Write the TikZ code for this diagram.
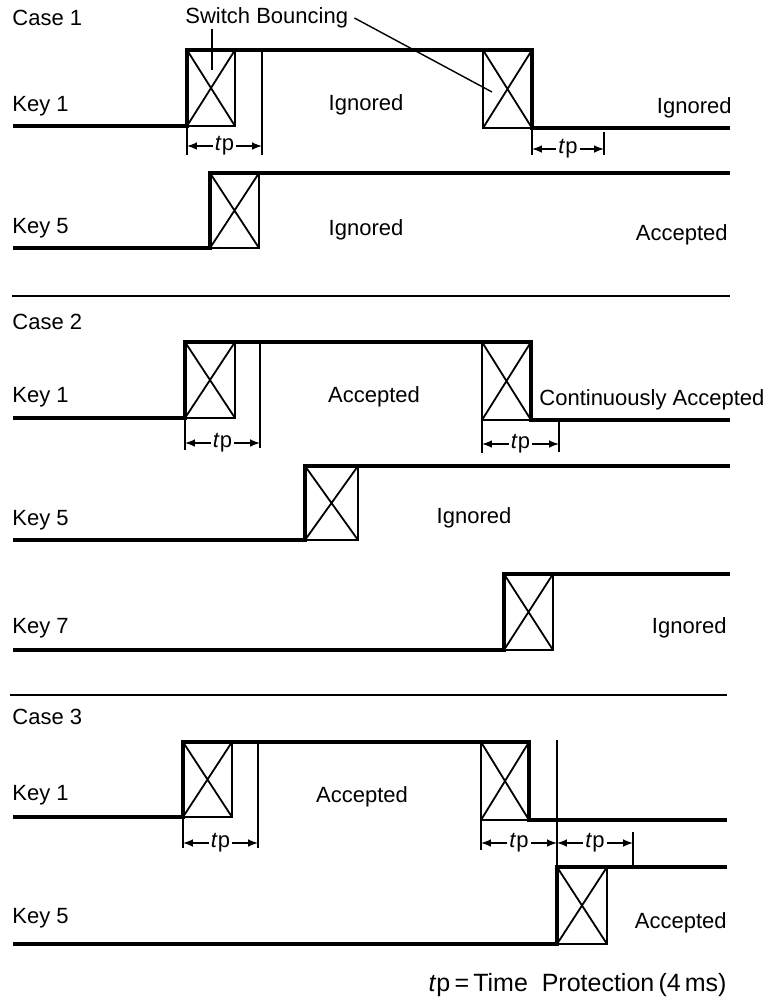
\documentclass[tikz,border=0pt]{standalone}
\usepackage{fontspec}
\setmainfont{Liberation Sans}
\usetikzlibrary{positioning}

\tikzset{
  sig/.style={line width=2pt, line join=miter},
  bnc/.style={line width=0.9pt},
  tick/.style={line width=0.7pt},
  sep/.style={line width=1.3pt},
  dim/.style={line width=0.7pt, <->, >=latex},
  txt/.style={font=\fontsize{11}{13}\selectfont, inner sep=0pt},
  tpl/.style={font=\fontsize{11}{13}\selectfont, fill=white, inner sep=1pt},
}
\newcommand{\tpname}{\textit{t}p}

\begin{document}
\begin{tikzpicture}[x=0.5pt, y=-0.5pt]
  \useasboundingbox (0,0) rectangle (765,1003);

  % Case 1
  \node[txt, anchor=west] (c1) at (12,18) {Case 1};
  \node[txt, anchor=west] (sb) at (185,18) {Switch Bouncing};
  \node[txt, anchor=west] (c1k1) at (12,106) {Key 1};
  \node[txt] (c1ig1) at (366,105) {Ignored};
  \node[txt, anchor=east] (c1ig2) at (732,108) {Ignored};
  \node[txt, anchor=west] (c1k5) at (12,228) {Key 5};
  \node[txt] (c1ig3) at (366,230) {Ignored};
  \node[txt, anchor=east] (c1acc) at (728,235) {Accepted};

  \draw[sig] (13,126) -- (187,126) -- (187,50) -- (532,50) -- (532,128) -- (730,128);
  \draw[sig] (13,248) -- (210,248) -- (210,173) -- (730,173);
  \coordinate (b1) at (212,70);
  \coordinate (b2) at (492,92);
  \draw[tick] (sb.south -| b1) -- (b1);
  \draw[tick] ([xshift=3pt]sb.east) -- (b2);

  \draw[tick] (187,126) -- (187,155);
  \draw[tick] (262,50) -- (262,155);
  \draw[dim] (187,146) -- node[tpl] {\tpname} (262,146);
  \draw[tick] (532,128) -- (532,155);
  \draw[tick] (604,132) -- (604,155);
  \draw[dim] (532,149) -- node[tpl] {\tpname} (604,149);

  \draw[sep] (12,296) -- (730,296);

  % Case 2
  \node[txt, anchor=west] (c2) at (12,322) {Case 2};
  \node[txt, anchor=west] (c2k1) at (12,397) {Key 1};
  \node[txt] (c2acc) at (374,397) {Accepted};
  \node[txt, anchor=west] (c2cont) at (539,400) {Continuously Accepted};
  \node[txt, anchor=west] (c2k5) at (12,520) {Key 5};
  \node[txt] (c2ig1) at (474,518) {Ignored};
  \node[txt, anchor=west] (c2k7) at (12,628) {Key 7};
  \node[txt, anchor=east] (c2ig2) at (727,628) {Ignored};

  \draw[sig] (13,418) -- (185,418) -- (185,342) -- (531,342) -- (531,420) -- (730,420);
  \draw[sig] (13,540) -- (305,540) -- (305,466) -- (730,466);
  \draw[sig] (13,650) -- (504,650) -- (504,574) -- (730,574);

  \draw[tick] (185,418) -- (185,450);
  \draw[tick] (260,342) -- (260,448);
  \draw[dim] (185,443) -- node[tpl] {\tpname} (260,443);
  \draw[tick] (482,420) -- (482,453);
  \draw[tick] (559,420) -- (559,452);
  \draw[dim] (482,444) -- node[tpl] {\tpname} (559,444);

  \draw[sep] (10,695) -- (727,695);

  % Case 3
  \node[txt, anchor=west] (c3) at (12,717) {Case 3};
  \node[txt, anchor=west] (c3k1) at (12,795) {Key 1};
  \node[txt] (c3acc1) at (362,797) {Accepted};
  \node[txt, anchor=west] (c3k5) at (12,918) {Key 5};
  \node[txt, anchor=east] (c3acc2) at (727,923) {Accepted};

  \draw[sig] (13,817) -- (183,817) -- (183,742) -- (529,742) -- (529,820) -- (727,820);
  \draw[sig] (13,944) -- (557,944) -- (557,867) -- (727,867);

  \draw[tick] (183,817) -- (183,848);
  \draw[tick] (258,742) -- (258,848);
  \draw[dim] (183,843) -- node[tpl] {\tpname} (258,843);
  \draw[tick] (481,820) -- (481,850);
  \draw[tick] (557,740) -- (557,867);
  \draw[dim] (481,843) -- node[tpl] {\tpname} (557,843);
  \draw[dim] (557,843) -- node[tpl] {\tpname} (633,843);
  \draw[tick] (633,832) -- (633,867);

  % bouncing boxes
  \foreach \xa/\xb/\ya/\yb in {187/235/50/126, 483/532/50/128, 210/259/173/248,
      185/235/342/418, 482/531/342/420, 305/358/466/540, 504/553/574/650,
      183/232/742/817, 481/529/742/820, 557/607/867/944}
    \draw[bnc] (\xa,\ya) rectangle (\xb,\yb) (\xa,\ya) -- (\xb,\yb) (\xa,\yb) -- (\xb,\ya);

  \node[txt, font=\fontsize{12.5}{14}\selectfont, anchor=east] (note) at (727,985)
    {\tpname\,=\,Time\ \ Protection\,(4\,ms)};
\end{tikzpicture}
\end{document}
